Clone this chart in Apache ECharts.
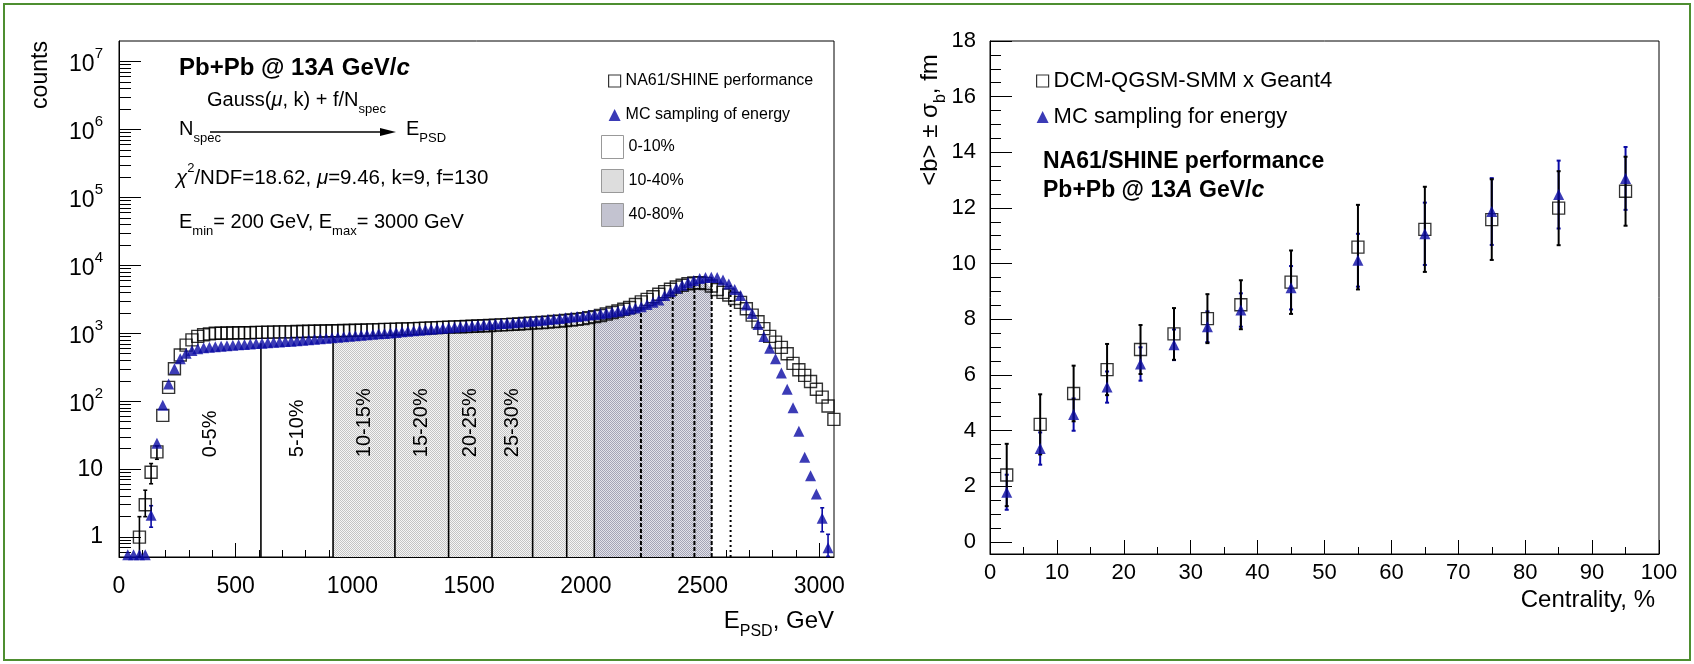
<!doctype html>
<html>
<head>
<meta charset="utf-8">
<title>PSD energy spectrum and impact parameter vs centrality</title>
<style>
  html, body { margin: 0; background: #fff; }
  #main { width: 1694px; height: 664px; }
</style>
</head>
<body>
<div id="main"></div>
<script src="https://cdn.jsdelivr.net/npm/echarts@6/dist/echarts.min.js"></script>
<script>
// ---------- left panel: E_PSD spectrum (25 GeV bins) ----------
var binWidth = 25;
var binCenters = [
  12.5, 37.5, 62.5, 87.5, 112.5, 137.5, 162.5, 187.5, 212.5, 237.5,
  262.5, 287.5, 312.5, 337.5, 362.5, 387.5, 412.5, 437.5, 462.5, 487.5,
  512.5, 537.5, 562.5, 587.5, 612.5, 637.5, 662.5, 687.5, 712.5, 737.5,
  762.5, 787.5, 812.5, 837.5, 862.5, 887.5, 912.5, 937.5, 962.5, 987.5,
  1012.5, 1037.5, 1062.5, 1087.5, 1112.5, 1137.5, 1162.5, 1187.5, 1212.5, 1237.5,
  1262.5, 1287.5, 1312.5, 1337.5, 1362.5, 1387.5, 1412.5, 1437.5, 1462.5, 1487.5,
  1512.5, 1537.5, 1562.5, 1587.5, 1612.5, 1637.5, 1662.5, 1687.5, 1712.5, 1737.5,
  1762.5, 1787.5, 1812.5, 1837.5, 1862.5, 1887.5, 1912.5, 1937.5, 1962.5, 1987.5,
  2012.5, 2037.5, 2062.5, 2087.5, 2112.5, 2137.5, 2162.5, 2187.5, 2212.5, 2237.5,
  2262.5, 2287.5, 2312.5, 2337.5, 2362.5, 2387.5, 2412.5, 2437.5, 2462.5, 2487.5,
  2512.5, 2537.5, 2562.5, 2587.5, 2612.5, 2637.5, 2662.5, 2687.5, 2712.5, 2737.5,
  2762.5, 2787.5, 2812.5, 2837.5, 2862.5, 2887.5, 2912.5, 2937.5, 2962.5, 2987.5,
  3012.5, 3037.5, 3062.5
];
// NA61/SHINE performance (open squares)
var countsData = [
  null, null, null, 1.0, 3.0, 9.0, 18, 62, 160, 300,
  480, 670, 800, 900, 950, 980, 1000, 1000, 1010, 1010,
  1020, 1020, 1020, 1030, 1030, 1040, 1040, 1050, 1050, 1050,
  1060, 1060, 1070, 1070, 1080, 1080, 1090, 1090, 1100, 1100,
  1110, 1110, 1120, 1120, 1130, 1140, 1140, 1150, 1160, 1160,
  1170, 1180, 1190, 1200, 1210, 1220, 1230, 1240, 1250, 1260,
  1270, 1280, 1290, 1300, 1320, 1330, 1340, 1360, 1370, 1390,
  1410, 1420, 1440, 1460, 1490, 1510, 1540, 1570, 1600, 1640,
  1700, 1760, 1830, 1920, 2020, 2130, 2260, 2400, 2650, 2900,
  3150, 3450, 3750, 4100, 4450, 4800, 5100, 5350, 5500, 5550,
  5400, 4950, 4400, 4000, 3650, 3250, 2850, 2300, 1850, 1480,
  1170, 900, 740, 620, 500, 360, 290, 240, 195, 150,
  115, 85, 54
];
// MC sampling of energy (blue triangles)
var countsMC = [
  null, 0.55, 0.55, 0.55, 0.55, 2.1, 24, 87, 180, 300,
  420, 510, 560, 590, 610, 625, 635, 645, 655, 665,
  675, 685, 695, 705, 715, 725, 735, 745, 755, 765,
  775, 790, 800, 815, 830, 845, 860, 875, 890, 905,
  920, 935, 950, 965, 980, 995, 1010, 1030, 1050, 1070,
  1090, 1110, 1130, 1150, 1170, 1190, 1210, 1230, 1250, 1270,
  1290, 1310, 1330, 1350, 1370, 1390, 1410, 1430, 1450, 1480,
  1500, 1530, 1560, 1590, 1620, 1650, 1690, 1730, 1770, 1810,
  1850, 1890, 1940, 1990, 2050, 2110, 2180, 2260, 2350, 2450,
  2650, 2850, 3100, 3600, 4100, 4600, 5100, 5600, 6000, 6400,
  6600, 6700, 6600, 6100, 5300, 4400, 3600, 2600, 1950, 1350,
  900, 600, 420, 260, 150, 80, 36, 15, 8, 4.3,
  1.9, 0.7, null
];
// visible error bars (low-statistics bins)
var dataErrBins = [87.5, 112.5, 137.5, 162.5];
var dataErrLo = [0.52, 2.0, 6.1, 14];
var dataErrHi = [2.0, 4.9, 12.1, 22];
var mcErrBins = [137.5, 3012.5, 3037.5];
var mcErrLo = [1.4, 1.2, 0.52];
var mcErrHi = [2.9, 2.7, 1.1];

// centrality class boundaries in E_PSD (GeV): 5,10,...,40 % solid, 50..80 % dashed, 90 % dotted
var centralityEdges = [608, 917, 1182, 1412, 1598, 1772, 1918, 2036, 2236, 2372, 2465, 2539, 2620];
var spectrumStart = 175;
var classLabels = ['0-5%', '5-10%', '10-15%', '15-20%', '20-25%', '25-30%'];
var fillClasses = ['0-10%', '10-40%', '40-80%'];

var xTicksLeft = [0, 500, 1000, 1500, 2000, 2500, 3000];
var yDecadesLeft = [0, 1, 2, 3, 4, 5, 6, 7];

// ---------- right panel: <b> vs centrality ----------
var centrality = [2.5, 7.5, 12.5, 17.5, 22.5, 27.5, 32.5, 37.5, 45, 55, 65, 75, 85, 95];
var bDCM = [2.40, 4.22, 5.33, 6.19, 6.91, 7.47, 8.02, 8.52, 9.33, 10.59, 11.23, 11.58, 11.99, 12.60];
var bDCMErr = [1.12, 1.08, 1.00, 0.92, 0.88, 0.93, 0.88, 0.88, 1.14, 1.52, 1.53, 1.45, 1.33, 1.24];
var bMC = [1.78, 3.35, 4.57, 5.56, 6.39, 7.08, 7.73, 8.33, 9.13, 10.12, 11.07, 11.87, 12.48, 13.06];
var bMCErr = [0.63, 0.58, 0.58, 0.56, 0.60, 0.55, 0.55, 0.60, 0.78, 0.95, 1.12, 1.20, 1.22, 1.13];
var yTicksRight = [0, 2, 4, 6, 8, 10, 12, 14, 16, 18];

// ---------- styling ----------
var ff = '"Liberation Sans", Arial, Helvetica, sans-serif';
var blue = '#0a0aa4';
var yMinL = 0.51, yMaxL = 2e7;
var xMaxL = 3063;
var yMinR = -0.44, yMaxR = 18;

function dotPattern(bg, dot) {
  var c = document.createElement('canvas');
  c.width = 2; c.height = 2;
  var ctx = c.getContext('2d');
  ctx.fillStyle = bg; ctx.fillRect(0, 0, 2, 2);
  ctx.fillStyle = dot; ctx.fillRect(0, 0, 1, 1); ctx.fillRect(1, 1, 1, 1);
  return c;
}
var lightFill = { image: dotPattern('#f6f6f6', '#c4c4c4'), repeat: 'repeat' };
var darkFill = { image: dotPattern('#e2e2ea', '#a4a4b6'), repeat: 'repeat' };

// minor tick positions (axis decoration only)
var xMinorLeft = [];
for (var v = 100; v < xMaxL; v += 100) if (v % 500) xMinorLeft.push(v);
var yMinorLeft = [];
for (var d = -1; d <= 7; d++) for (var m = 2; m <= 9; m++) {
  var lv = d + Math.log10(m);
  if (lv > Math.log10(yMinL) && lv < Math.log10(yMaxL)) yMinorLeft.push(lv);
}
var yMinorRight = [];
for (var r = 0.5; r < yMaxR; r += 0.5) if (r % 2) yMinorRight.push(r);

function pairs(xs, ys) {
  var out = [];
  xs.forEach(function (x, i) { if (ys[i] != null) out.push([x, ys[i]]); });
  return out;
}
function binIndex(e) {
  for (var i = 0; i < binCenters.length; i++) if (Math.abs(binCenters[i] - e) <= binWidth / 2) return i;
  return -1;
}

function regionPolygon(pattern) {
  return function (params, api) {
    var lo = api.value(0), hi = api.value(1);
    var pts = [api.coord([lo, yMinL])];
    binCenters.forEach(function (c, i) {
      var a = Math.max(c - binWidth / 2, lo), b = Math.min(c + binWidth / 2, hi);
      if (b <= a || countsData[i] == null || countsMC[i] == null) return;
      var top = Math.min(countsData[i], countsMC[i]);
      pts.push(api.coord([a, top]), api.coord([b, top]));
    });
    pts.push(api.coord([hi, yMinL]));
    return { type: 'polygon', shape: { points: pts }, style: { fill: pattern } };
  };
}

function errBar(color, width, cap) {
  return function (params, api) {
    var p0 = api.coord([api.value(0), api.value(1)]);
    var p1 = api.coord([api.value(0), api.value(2)]);
    var st = { stroke: color, lineWidth: width };
    return { type: 'group', children: [
      { type: 'line', shape: { x1: p0[0], y1: p0[1], x2: p1[0], y2: p1[1] }, style: st },
      { type: 'line', shape: { x1: p0[0] - cap, y1: p0[1], x2: p0[0] + cap, y2: p0[1] }, style: st },
      { type: 'line', shape: { x1: p1[0] - cap, y1: p1[1], x2: p1[0] + cap, y2: p1[1] }, style: st }
    ] };
  };
}

function rich(s) {
  var pad = Math.round(s * 0.28), small = Math.round(s * 0.65);
  var base = { fontSize: s, fontFamily: ff, fill: '#000', padding: [pad, 0, pad, 0] };
  return {
    n: base,
    i: Object.assign({}, base, { fontStyle: 'italic' }),
    b: Object.assign({}, base, { fontWeight: 'bold' }),
    bi: Object.assign({}, base, { fontWeight: 'bold', fontStyle: 'italic' }),
    sub: { fontSize: small, fontFamily: ff, fill: '#000', verticalAlign: 'bottom' },
    sup: { fontSize: small, fontFamily: ff, fill: '#000', verticalAlign: 'top' }
  };
}
function label(x, y, text, size, align, opts) {
  return Object.assign({
    type: 'text', x: x, y: y, silent: true,
    style: { text: text, rich: rich(size), align: align || 'left', verticalAlign: 'middle' }
  }, opts || {});
}

var chart = echarts.init(document.getElementById('main'));

var dataErr = dataErrBins.map(function (e, i) { return [e, dataErrLo[i], dataErrHi[i]]; });
var mcErr = mcErrBins.map(function (e, i) { return [e, mcErrLo[i], mcErrHi[i]]; });
var edgeData = centralityEdges.map(function (e, k) { return [e, countsMC[binIndex(e)], k]; });
var labelEdges = [spectrumStart].concat(centralityEdges);
var labelBase = 15; // class labels start (rotated) at this count level
var labelData = classLabels.map(function (t, k) { return [(labelEdges[k] + labelEdges[k + 1]) / 2, labelBase, k]; });

var axisBlack = { onZero: false, lineStyle: { color: '#000', width: 1 } };
var noLine = { show: false, onZero: false };
function plain(v) { return String(v); }

chart.setOption({
  animation: false,
  textStyle: { fontFamily: ff },
  grid: [
    { left: 119, top: 41, width: 715, height: 516, show: true, borderColor: '#000', borderWidth: 1, backgroundColor: 'rgba(0,0,0,0)' },
    { left: 990, top: 41, width: 669, height: 513, show: true, borderColor: '#000', borderWidth: 1, backgroundColor: 'rgba(0,0,0,0)' }
  ],
  xAxis: [
    { gridIndex: 0, type: 'value', min: 0, max: xMaxL, position: 'bottom',
      axisLine: axisBlack, splitLine: { show: false },
      axisTick: { inside: true, length: 14, customValues: xTicksLeft, lineStyle: { color: '#000' } },
      axisLabel: { customValues: xTicksLeft, formatter: plain, fontSize: 23, color: '#000', margin: 18 } },
    { gridIndex: 0, type: 'value', min: 0, max: xMaxL, position: 'bottom',
      axisLine: noLine, splitLine: { show: false }, axisLabel: { show: false },
      axisTick: { inside: true, length: 7, customValues: xMinorLeft, lineStyle: { color: '#000' } } },
    { gridIndex: 1, type: 'value', min: 0, max: 100, interval: 10, position: 'bottom',
      axisLine: axisBlack, splitLine: { show: false },
      axisTick: { inside: true, length: 14, lineStyle: { color: '#000' } },
      minorTick: { show: true, splitNumber: 2, length: 7, lineStyle: { color: '#000' } },
      axisLabel: { formatter: plain, fontSize: 22, color: '#000', margin: 8 } }
  ],
  yAxis: [
    { gridIndex: 0, type: 'log', logBase: 10, min: yMinL, max: yMaxL, position: 'left',
      axisLine: axisBlack, axisTick: { show: false }, axisLabel: { show: false }, splitLine: { show: false } },
    { gridIndex: 0, type: 'value', min: Math.log10(yMinL), max: Math.log10(yMaxL), position: 'left',
      axisLine: noLine, splitLine: { show: false },
      axisTick: { inside: true, length: 22, customValues: yDecadesLeft, lineStyle: { color: '#000' } },
      axisLabel: { customValues: yDecadesLeft, margin: 16, color: '#000',
        formatter: function (v) {
          if (v === 0) return '{p|1}';
          if (v === 1) return '{p|10}';
          return '{b|10}{s|' + v + '}';
        },
        rich: {
          p: { fontSize: 23, color: '#000', fontFamily: ff },
          b: { fontSize: 23, color: '#000', fontFamily: ff, padding: [7, 0, 0, 0] },
          s: { fontSize: 15, color: '#000', fontFamily: ff, verticalAlign: 'top' }
        } } },
    { gridIndex: 0, type: 'value', min: Math.log10(yMinL), max: Math.log10(yMaxL), position: 'left',
      axisLine: noLine, splitLine: { show: false }, axisLabel: { show: false },
      axisTick: { inside: true, length: 12, customValues: yMinorLeft, lineStyle: { color: '#000' } } },
    { gridIndex: 1, type: 'value', min: yMinR, max: yMaxR, position: 'left',
      axisLine: axisBlack, splitLine: { show: false },
      axisTick: { inside: true, length: 22, customValues: yTicksRight, lineStyle: { color: '#000' } },
      axisLabel: { customValues: yTicksRight, formatter: plain, fontSize: 22, color: '#000', margin: 14 } },
    { gridIndex: 1, type: 'value', min: yMinR, max: yMaxR, position: 'left',
      axisLine: noLine, splitLine: { show: false }, axisLabel: { show: false },
      axisTick: { inside: true, length: 11, customValues: yMinorRight, lineStyle: { color: '#000' } } }
  ],
  legend: [
    { left: 603, top: 68, orient: 'vertical', itemWidth: 12, itemHeight: 12, itemGap: 18, selectedMode: false,
      textStyle: { fontSize: 16, color: '#000', fontFamily: ff },
      data: [
        { name: 'NA61/SHINE performance', icon: 'rect', itemStyle: { color: 'rgba(0,0,0,0)', borderColor: '#000', borderWidth: 1.2 } },
        { name: 'MC sampling of energy', icon: 'triangle', itemStyle: { color: blue } }
      ] },
    { left: 596, top: 130, orient: 'vertical', itemWidth: 22, itemHeight: 23, itemGap: 10, selectedMode: false,
      textStyle: { fontSize: 16, color: '#000', fontFamily: ff },
      data: [
        { name: fillClasses[0], icon: 'rect', itemStyle: { color: '#fff', borderColor: '#999', borderWidth: 1 } },
        { name: fillClasses[1], icon: 'rect', itemStyle: { color: lightFill, borderColor: '#999', borderWidth: 1 } },
        { name: fillClasses[2], icon: 'rect', itemStyle: { color: darkFill, borderColor: '#999', borderWidth: 1 } }
      ] },
    { left: 1031, top: 65, orient: 'vertical', itemWidth: 12, itemHeight: 12, itemGap: 14, selectedMode: false,
      textStyle: { fontSize: 22, color: '#000', fontFamily: ff },
      data: [
        { name: 'DCM-QGSM-SMM x Geant4', icon: 'rect', itemStyle: { color: 'rgba(0,0,0,0)', borderColor: '#000', borderWidth: 1.2 } },
        { name: 'MC sampling for energy', icon: 'triangle', itemStyle: { color: blue } }
      ] }
  ],
  graphic: [
    { type: 'rect', silent: true, shape: { x: 4, y: 4, width: 1686, height: 656 },
      style: { fill: 'none', stroke: '#4e8e30', lineWidth: 2 } },
    { type: 'text', x: 41, y: 75, rotation: Math.PI / 2, silent: true,
      style: { text: 'counts', fontSize: 23, fontFamily: ff, fill: '#000', align: 'center', verticalAlign: 'middle' } },
    label(834, 621, '{n|E}{sub|PSD}{n|, GeV}', 24, 'right'),
    label(179, 68, '{b|Pb+Pb @ 13}{bi|A}{b| GeV/}{bi|c}', 24),
    label(207, 100, '{n|Gauss(}{i|\u03bc}{n|, k) + f/N}{sub|spec}', 20),
    label(179, 129, '{n|N}{sub|spec}', 20),
    { type: 'line', silent: true, shape: { x1: 210, y1: 132, x2: 384, y2: 132 }, style: { stroke: '#000', lineWidth: 1.5 } },
    { type: 'polygon', silent: true, shape: { points: [[380, 128], [396, 132], [380, 136]] }, style: { fill: '#000' } },
    label(406, 129, '{n|E}{sub|PSD}', 20),
    label(176, 178, '{i|\u03c7}{sup|2}{n|/NDF=18.62, }{i|\u03bc}{n|=9.46, k=9, f=130}', 20.5),
    label(179, 222, '{n|E}{sub|min}{n|= 200 GeV, E}{sub|max}{n|= 3000 GeV}', 20),
    label(930, 120, '{n|<b> \u00b1 \u03c3}{sub|b}{n|, fm}', 24, 'center', { rotation: Math.PI / 2 }),
    label(1655, 600, '{n|Centrality, %}', 24, 'right'),
    label(1043, 162, '{b|NA61/SHINE performance}', 23),
    label(1043, 191, '{b|Pb+Pb @ 13}{bi|A}{b| GeV/}{bi|c}', 23)
  ],
  series: [
    { type: 'custom', name: fillClasses[0], xAxisIndex: 0, yAxisIndex: 0, silent: true, z: 1,
      data: [], renderItem: function () { return null; } },
    { type: 'custom', name: fillClasses[1], xAxisIndex: 0, yAxisIndex: 0, silent: true, z: 1,
      data: [[centralityEdges[1], centralityEdges[7]]], renderItem: regionPolygon(lightFill) },
    { type: 'custom', name: fillClasses[2], xAxisIndex: 0, yAxisIndex: 0, silent: true, z: 1,
      data: [[centralityEdges[7], centralityEdges[11]]], renderItem: regionPolygon(darkFill) },
    { type: 'custom', xAxisIndex: 0, yAxisIndex: 0, silent: true, z: 2, data: edgeData,
      renderItem: function (params, api) {
        var k = api.value(2);
        var p0 = api.coord([api.value(0), yMinL]), p1 = api.coord([api.value(0), api.value(1)]);
        var dash = k < 8 ? null : (k < 12 ? [4, 2] : [2, 3]);
        return { type: 'line', shape: { x1: p0[0], y1: p0[1], x2: p1[0], y2: p1[1] },
          style: { stroke: '#000', lineWidth: k < 8 ? 1.6 : 2, lineDash: dash } };
      } },
    { type: 'custom', xAxisIndex: 0, yAxisIndex: 0, silent: true, z: 2, data: labelData,
      renderItem: function (params, api) {
        var p = api.coord([api.value(0), api.value(1)]);
        return { type: 'text', x: p[0], y: p[1], rotation: Math.PI / 2,
          style: { text: classLabels[api.value(2)], fontSize: 20, fontFamily: ff, fill: '#000', align: 'left', verticalAlign: 'middle' } };
      } },
    { type: 'custom', xAxisIndex: 0, yAxisIndex: 0, silent: true, z: 3, data: dataErr, renderItem: errBar('#000', 1.6, 2) },
    { type: 'custom', xAxisIndex: 0, yAxisIndex: 0, silent: true, z: 3, data: mcErr, renderItem: errBar(blue, 1.6, 2) },
    { type: 'scatter', name: 'NA61/SHINE performance', xAxisIndex: 0, yAxisIndex: 0, silent: true, z: 4,
      symbol: 'rect', symbolSize: 12, data: pairs(binCenters, countsData),
      itemStyle: { color: 'rgba(0,0,0,0)', borderColor: '#000', borderWidth: 1.4 } },
    { type: 'scatter', name: 'MC sampling of energy', xAxisIndex: 0, yAxisIndex: 0, silent: true, z: 5,
      symbol: 'triangle', symbolSize: 11, data: pairs(binCenters, countsMC), itemStyle: { color: blue } },

    { type: 'custom', xAxisIndex: 2, yAxisIndex: 3, silent: true, z: 3,
      data: centrality.map(function (c, i) { return [c, bMC[i] - bMCErr[i], bMC[i] + bMCErr[i]]; }),
      renderItem: errBar(blue, 2, 2) },
    { type: 'custom', xAxisIndex: 2, yAxisIndex: 3, silent: true, z: 3,
      data: centrality.map(function (c, i) { return [c, bDCM[i] - bDCMErr[i], bDCM[i] + bDCMErr[i]]; }),
      renderItem: errBar('#000', 2, 2) },
    { type: 'scatter', name: 'DCM-QGSM-SMM x Geant4', xAxisIndex: 2, yAxisIndex: 3, silent: true, z: 4,
      symbol: 'rect', symbolSize: 12, data: pairs(centrality, bDCM),
      itemStyle: { color: 'rgba(0,0,0,0)', borderColor: '#000', borderWidth: 1.3 } },
    { type: 'scatter', name: 'MC sampling for energy', xAxisIndex: 2, yAxisIndex: 3, silent: true, z: 5,
      symbol: 'triangle', symbolSize: 11, data: pairs(centrality, bMC), itemStyle: { color: blue } }
  ]
});
</script>
</body>
</html>
